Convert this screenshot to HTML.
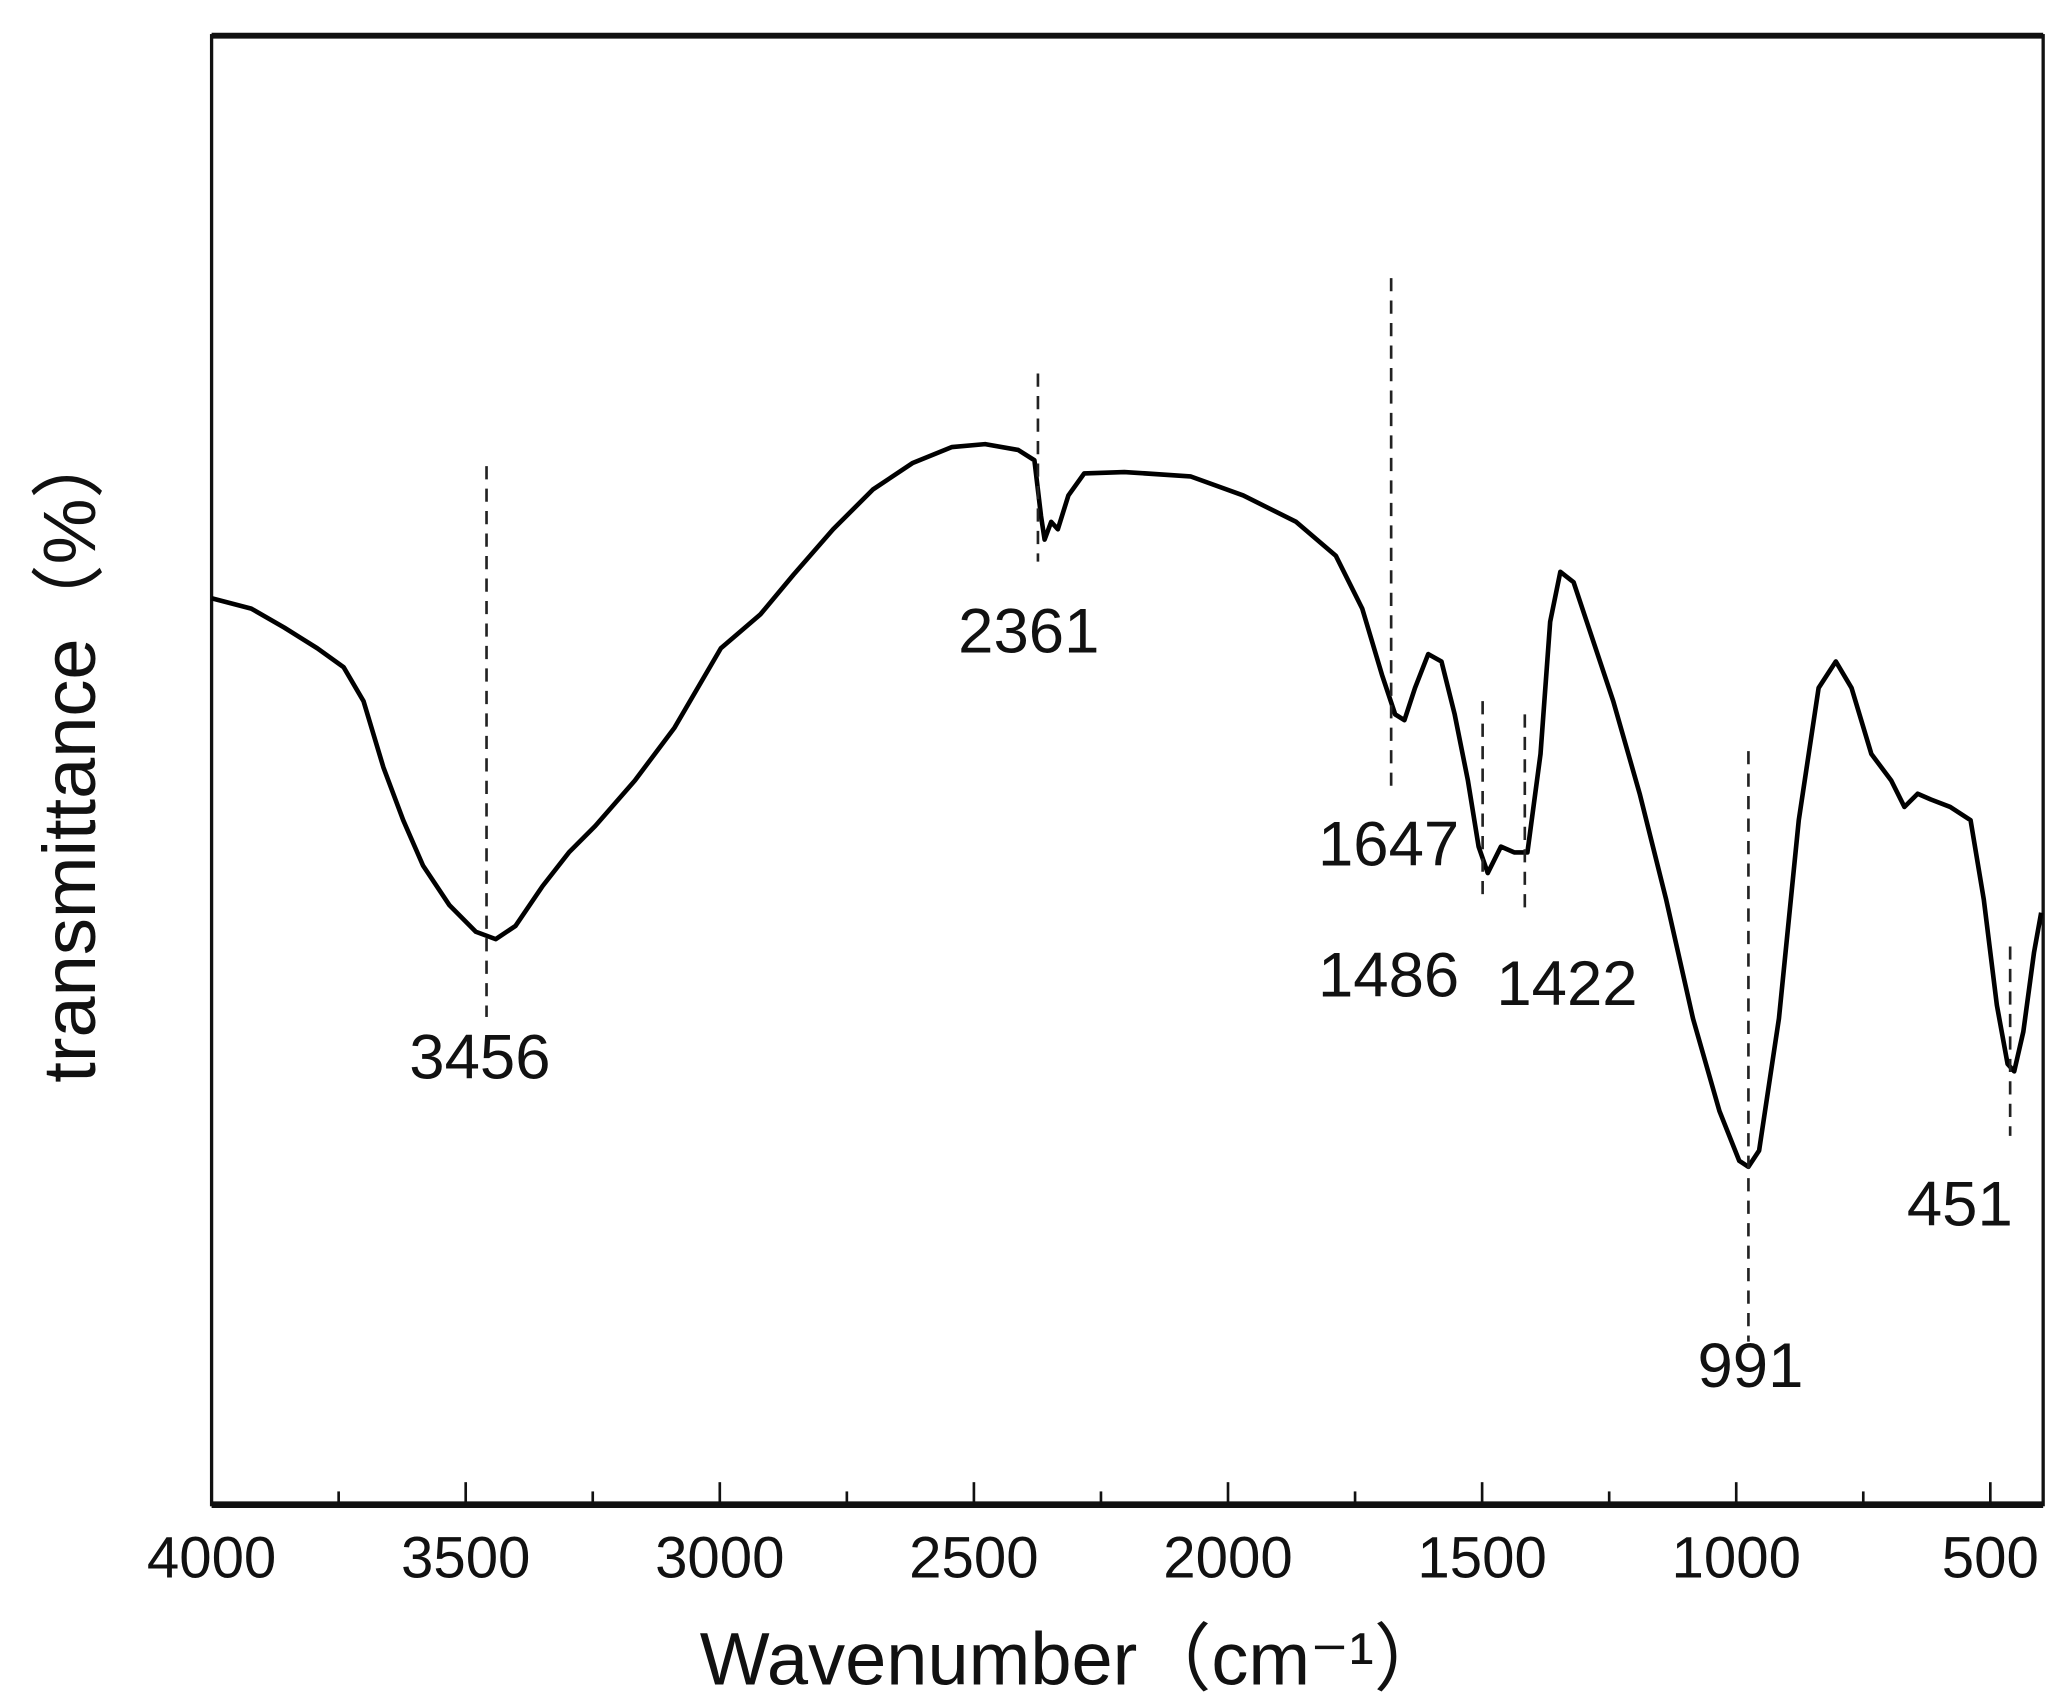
<!DOCTYPE html>
<html><head><meta charset="utf-8"><style>
html,body{margin:0;padding:0;background:#fff;}
svg{display:block;}
text{font-family:"Liberation Sans","Noto Sans CJK SC",sans-serif;fill:#111;}
</style></head><body>
<svg id="chart" width="2063" height="1699" viewBox="0 0 1560 1285" preserveAspectRatio="none" xmlns="http://www.w3.org/2000/svg">
<rect x="0" y="0" width="1560" height="1285" fill="#fff"/>
<g id="frame"></g>
<g id="ticks"></g>
<g id="marks"></g>
<g id="labels"></g>
<text x="812" y="1274" font-size="56" text-anchor="middle">Wavenumber（cm⁻¹）</text>
<text x="0" y="0" font-size="56" text-anchor="middle" transform="translate(72,570) rotate(-90)">transmittance（%）</text>
</svg>
<script>
const wavenumbers=[4000,3922,3857,3792,3740,3701,3662,3623,3584,3532,3480,3441,3402,3349,3297,3245,3167,3089,2998,2920,2855,2777,2699,2621,2543,2478,2413,2381,2368,2361,2348,2335,2314,2283,2204,2074,1970,1866,1788,1736,1697,1671,1653,1632,1606,1580,1554,1528,1507,1489,1463,1437,1411,1385,1366,1346,1320,1294,1242,1190,1138,1085,1033,994,976,955,916,877,838,804,773,734,695,669,643,617,579,539,513,487,466,453,435,414,400];
const transmittance=[61.7,61.0,59.7,58.3,57.0,54.7,50.2,46.6,43.5,40.8,39.0,38.5,39.4,42.1,44.4,46.2,49.3,52.9,58.3,60.6,63.3,66.4,69.1,70.9,72.0,72.2,71.8,71.1,67.3,65.7,66.9,66.4,68.7,70.2,70.3,70.0,68.7,66.9,64.6,61.0,56.5,53.8,53.4,55.6,57.9,57.4,53.8,49.3,44.8,43.0,44.8,44.4,44.4,51.1,60.1,63.5,62.8,60.1,54.7,48.4,41.2,33.1,26.8,23.4,23.0,24.1,33.1,46.6,55.6,57.4,55.6,51.1,49.3,47.5,48.4,48.0,47.5,46.6,41.2,34.0,30.0,29.5,32.2,37.6,40.3];
const xTickLabels=[4000,3500,3000,2500,2000,1500,1000,500];
const minorTicks=[3750,3250,2750,2250,1750,1250,750];
const peakLabels=["3456","2361","1647","1486","1422","991","451"];
const peakPositions=[3459,2374,1679,1499,1416,976,461];
const peakLineTop=[70.7,77.0,83.5,54.7,53.8,51.3,38];
const peakLineBottom=[33.2,64.2,48.4,41.2,40.3,11.1,25.1];
const peakTextX=[3472,2392,1684,1684,1333,972,560];
const peakTextY=[29,58,43.5,34.6,34,8,19];

const L=160,R=1545,T=27,B=1138;
const X=w=>L+(4000-w)*0.3843;
const Y=t=>B-t*(B-T)/100;
const NS="http://www.w3.org/2000/svg";
function mk(tag,attrs,parent){const e=document.createElementNS(NS,tag);for(const k in attrs)e.setAttribute(k,attrs[k]);parent.appendChild(e);return e;}
const frame=document.getElementById('frame');
const f=mk('rect',{x:L,y:T,width:R-L,height:B-T,fill:'none',stroke:'#111','stroke-width':2.5},frame);


const topB=mk('line',{x1:L,y1:T,x2:R,y2:T,stroke:'#111','stroke-width':4.5},frame);


const xa=mk('line',{x1:L,y1:B,x2:R,y2:B,stroke:'#111','stroke-width':5},frame);


const ticks=document.getElementById('ticks');
xTickLabels.forEach(v=>{
 const t=mk('line',{x1:X(v),y1:B,x2:X(v),y2:B-17,stroke:'#111','stroke-width':2},ticks);
 
 
 const tx=mk('text',{x:X(v),y:B+55,'font-size':44,'text-anchor':'middle'},ticks);
 tx.textContent=v;
 
 
});
minorTicks.forEach(v=>{
 const t=mk('line',{x1:X(v),y1:B,x2:X(v),y2:B-10,stroke:'#111','stroke-width':2},ticks);
 
 
});
const marks=document.getElementById('marks');
let d='';
wavenumbers.forEach((w,i)=>{d+=(i?'L':'M')+X(w).toFixed(1)+','+Y(transmittance[i]).toFixed(1);});
const p=mk('path',{d:d,fill:'none',stroke:'#000','stroke-width':3.5,'stroke-linejoin':'round'},marks);


const labels=document.getElementById('labels');
peakPositions.forEach((w,i)=>{
 const l=mk('line',{x1:X(w),y1:Y(peakLineTop[i]),x2:X(w),y2:Y(peakLineBottom[i]),stroke:'#222','stroke-width':2,'stroke-dasharray':'10,7'},labels);
 
 
 const t=mk('text',{x:X(peakTextX[i]),y:Y(peakTextY[i]),'font-size':48,'text-anchor':'middle'},labels);
 t.textContent=peakLabels[i];
 
 
});
</script>
</body></html>
